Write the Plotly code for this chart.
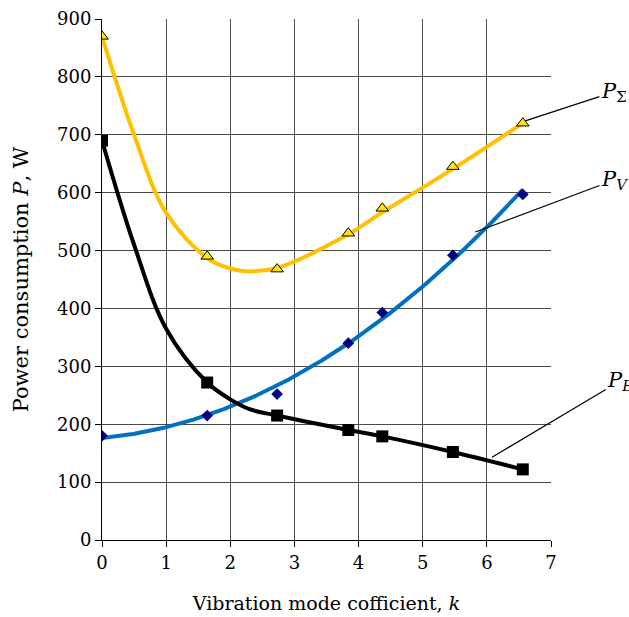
import numpy as np
import plotly.graph_objects as go

# Vibration mode coefficient and measured power components
k = [0.0, 1.64, 2.73, 3.84, 4.37, 5.47, 6.56]
p_e = [690, 272, 215, 190, 179, 152, 122]
p_v = [180, 215, 252, 340, 393, 492, 597]
p_sum = [870, 490, 468, 530, 573, 645, 720]

# Smoothed trend curves for P_E and P_sum, sampled along k
k_curve = [0.0, 0.5, 1.0, 1.64, 2.0, 2.3, 2.73, 3.84, 4.37, 5.47, 6.56]
p_e_curve = [690, 510, 365, 272, 243, 226, 215, 190, 179, 152, 122]
p_sum_curve = [870, 700, 565, 487, 469, 464, 470, 528, 566, 641, 720]

x_ticks = [0, 1, 2, 3, 4, 5, 6, 7]
y_ticks = [0, 100, 200, 300, 400, 500, 600, 700, 800, 900]

FONT = "DejaVu Serif"

# Quadratic trend for P_V
xs = np.linspace(min(k), max(k), 300)
trend_v = np.polyval(np.polyfit(k, p_v, 2), xs)

fig = go.Figure()

fig.add_trace(go.Scatter(x=k_curve, y=p_sum_curve, mode="lines",
                         line=dict(color="#FFC000", width=4, shape="spline", smoothing=1.0),
                         showlegend=False))
fig.add_trace(go.Scatter(x=xs, y=trend_v, mode="lines",
                         line=dict(color="#0070C0", width=4), showlegend=False))
fig.add_trace(go.Scatter(x=k_curve, y=p_e_curve, mode="lines",
                         line=dict(color="black", width=4, shape="spline", smoothing=1.0),
                         showlegend=False))

fig.add_trace(go.Scatter(x=k, y=p_sum, mode="markers",
                         marker=dict(symbol="triangle-up", size=11, color="#FFE800",
                                     line=dict(color="black", width=1)), showlegend=False))
fig.add_trace(go.Scatter(x=k, y=p_v, mode="markers",
                         marker=dict(symbol="diamond", size=9, color="#000080"), showlegend=False))
fig.add_trace(go.Scatter(x=k, y=p_e, mode="markers",
                         marker=dict(symbol="square", size=12, color="black"), showlegend=False))

axis_common = dict(
    showline=True, linecolor="black", linewidth=1,
    showgrid=True, gridcolor="#4a4a4a", gridwidth=1,
    ticks="outside", ticklen=6, tickcolor="black",
    tickfont=dict(family=FONT, size=18, color="black"),
    zeroline=False, mirror=False, automargin=False,
)
fig.update_xaxes(range=[0, 7], tickvals=x_ticks, **axis_common,
                 title=dict(text="Vibration mode cofficient, <i>k</i>",
                            font=dict(family=FONT, size=19, color="black"), standoff=25))
fig.update_yaxes(range=[0, 900], tickvals=y_ticks, **axis_common,
                 title=dict(text="Power consumption <i>P</i>, W",
                            font=dict(family=FONT, size=21, color="black"), standoff=22))

labels = [
    ("<i>P</i><sub>Σ</sub>", 6.60, 724, 7.98, 774),
    ("<i>P<sub>V</sub></i>", 5.82, 532, 7.99, 622),
    ("<i>P<sub>E</sub></i>", 6.08, 143, 8.08, 275),
]
for text, x, y, ax, ay in labels:
    fig.add_annotation(x=x, y=y, ax=ax, ay=ay, xref="x", yref="y", axref="x", ayref="y",
                       text=text, showarrow=True, arrowhead=0, arrowwidth=1.2,
                       arrowcolor="black", standoff=0,
                       font=dict(family=FONT, size=21, color="black"))

fig.update_layout(
    width=629, height=617,
    margin=dict(l=102, r=78, t=19, b=77),
    plot_bgcolor="white", paper_bgcolor="white",
)

fig.write_html("out.html")
